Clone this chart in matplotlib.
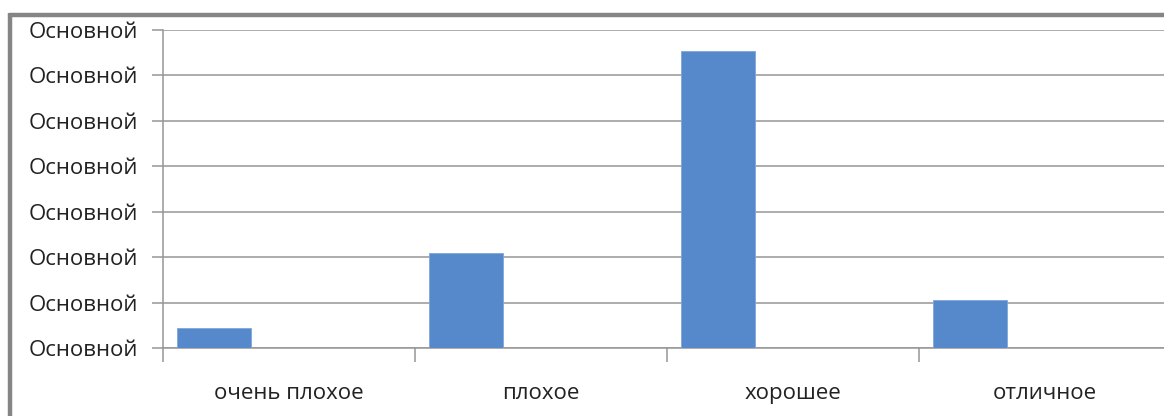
import matplotlib
matplotlib.use("Agg")
import matplotlib.pyplot as plt
from matplotlib.lines import Line2D
import numpy as np

# share of answers per rating
categories = ["очень плохое", "плохое", "хорошее", "отличное"]
shares = [0.046, 0.209, 0.653, 0.107]
y_ticks = [0.0, 0.1, 0.2, 0.3, 0.4, 0.5, 0.6, 0.7]
y_labels = ["Основной"] * len(y_ticks)

plt.rcParams['font.family'] = ['Open Sans', 'DejaVu Sans']

fig = plt.figure(figsize=(11.64, 4.16), dpi=100)
ax = fig.add_axes([0.140, 0.1623, 0.866, 0.7656])

grid_c = "#969696"
text_c = "#222222"
x = np.arange(len(categories))
bar_w = 0.294
ax.bar(x - 0.5 + 0.055 + bar_w / 2, shares, width=bar_w,
       color="#5689cc", edgecolor="#7fa7da", linewidth=0.6, zorder=3)

ax.set_xlim(-0.5, len(categories) - 0.5)
ax.set_ylim(0, 0.7)

ax.set_yticks(y_ticks)
ax.set_yticklabels(y_labels, fontsize=16, color=text_c)
ax.tick_params(axis="y", length=8, width=1.1, color=grid_c, pad=10)
ax.yaxis.grid(True, color=grid_c, linewidth=1.1, zorder=0)

# labels in the middle of each category, ticks on the boundaries
ax.set_xticks(x)
ax.set_xticklabels(categories, fontsize=16, color=text_c)
ax.tick_params(axis="x", which="major", length=0, pad=25)
ax.set_xticks(np.arange(len(categories) + 1) - 0.5, minor=True)
ax.tick_params(axis="x", which="minor", length=10, width=1.1, color=grid_c)

for side in ["top", "right"]:
    ax.spines[side].set_visible(False)
for side in ["left", "bottom"]:
    ax.spines[side].set_color(grid_c)
    ax.spines[side].set_linewidth(1.1)

# outer chart frame (top and left edges)
fig.add_artist(Line2D([10.5 / 1164, 10.5 / 1164], [0, 1 - 13 / 416],
                      transform=fig.transFigure, color="#858585",
                      linewidth=3.2, solid_capstyle="butt"))
fig.add_artist(Line2D([9 / 1164, 1], [1 - 14.5 / 416, 1 - 14.5 / 416],
                      transform=fig.transFigure, color="#858585",
                      linewidth=3.2, solid_capstyle="butt"))

fig.savefig("out.png", dpi=100)
